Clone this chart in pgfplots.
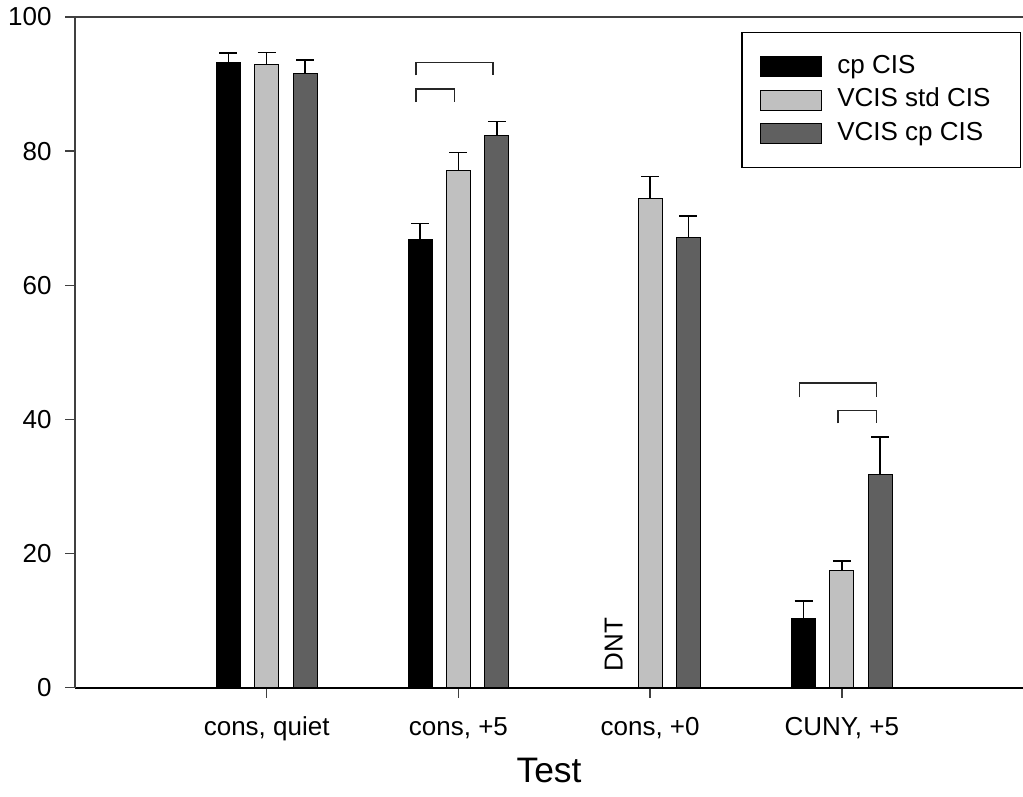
\documentclass[border=0pt]{standalone}
\usepackage{pgfplots}
\pgfplotsset{compat=1.18}
\usepackage{fontspec}
\setmainfont{Liberation Sans}
\definecolor{lgray}{HTML}{C0C0C0}
\definecolor{dgray}{HTML}{606060}
\begin{document}
\begin{tikzpicture}
\begin{axis}[
  at={(0,0)}, anchor=south west,
  scale only axis,
  width=474pt, height=335.35pt,
  xmin=0, xmax=4.945,
  ymin=0, ymax=100,
  clip=false,
  axis lines=left,
  axis line style={-},
  x axis line style={black, line width=1.1pt},
  y axis line style={black!75, line width=0.75pt},
  tick align=outside,
  major tick length=5pt,
  tick style={black!75, line width=0.75pt},
  xtick={1,2,3,4},
  xticklabels={{cons, quiet},{cons, +5},{cons, +0},{CUNY, +5}},
  ytick={0,20,40,60,80,100},
  /pgf/number format/assume math mode=true,
  every tick label/.append style={font=\fontsize{13}{15}\selectfont},
  yticklabel style={inner xsep=6.5pt},
  xticklabel style={text height=9.5pt, text depth=3pt, inner ysep=9pt},
  xlabel={Test},
  xlabel style={at={(axis description cs:0.5,0)}, anchor=base, yshift=-47.2pt, font=\fontsize{17.7}{20}\selectfont},
  legend cell align=left,
  legend style={at={(rel axis cs:0.703,0.9772)}, anchor=north west,
    draw=black, line width=0.6pt, inner xsep=9.15pt, inner ysep=10.75pt,
    row sep=4.2pt,
    font=\fontsize{13}{15}\selectfont,
    nodes={inner sep=0pt, text height=9.5pt, text depth=3pt},
    /tikz/every odd column/.append style={column sep=7.5pt}},
  legend image code/.code={\draw[#1, line width=0.5pt] (0pt,-5pt) rectangle (30.5pt,5pt);},
]
\addplot[ybar, bar width=12pt, bar shift=0pt, fill=black, draw=black, line width=0.5pt,
  error bars/.cd, y dir=plus, y explicit,
  error bar style={black, line width=0.75pt},
  error mark options={rotate=90, black, line width=0.75pt, mark size=4.5pt}]
  coordinates {(0.8,93.2) +- (0,1.4) (1.8,66.8) +- (0,2.4) (3.8,10.3) +- (0,2.65)};
\addlegendentry{\makebox[82.5pt][l]{cp CIS}}
\addplot[ybar, bar width=12pt, bar shift=0pt, fill=lgray, draw=black, line width=0.5pt,
  error bars/.cd, y dir=plus, y explicit,
  error bar style={black, line width=0.75pt},
  error mark options={rotate=90, black, line width=0.75pt, mark size=4.5pt}]
  coordinates {(1,92.85) +- (0,1.85) (2,77.1) +- (0,2.7) (3,72.9) +- (0,3.3) (4,17.4) +- (0,1.5)};
\addlegendentry{\makebox[82.5pt][l]{VCIS std CIS}}
\addplot[ybar, bar width=12pt, bar shift=0pt, fill=dgray, draw=black, line width=0.5pt,
  error bars/.cd, y dir=plus, y explicit,
  error bar style={black, line width=0.75pt},
  error mark options={rotate=90, black, line width=0.75pt, mark size=4.5pt}]
  coordinates {(1.2,91.6) +- (0,2.0) (2.2,82.4) +- (0,2.0) (3.2,67.05) +- (0,3.25) (4.2,31.8) +- (0,5.6)};
\addlegendentry{\makebox[82.5pt][l]{VCIS cp CIS}}
% significance brackets
\addplot[forget plot, black!85, line width=0.75pt, sharp plot] coordinates {(1.78,91.3) (1.78,93.2) (2.18,93.2) (2.18,91.3)};
\addplot[forget plot, black!85, line width=0.75pt, sharp plot] coordinates {(1.78,87.3) (1.78,89.3) (1.98,89.3) (1.98,87.3)};
\addplot[forget plot, black!85, line width=0.75pt, sharp plot] coordinates {(3.78,43.3) (3.78,45.4) (4.18,45.4) (4.18,43.3)};
\addplot[forget plot, black!85, line width=0.75pt, sharp plot] coordinates {(3.98,39.4) (3.98,41.3) (4.18,41.3) (4.18,39.4)};
\draw[black!75, line width=0.75pt] (rel axis cs:0,1) -- (rel axis cs:1,1);
\node[rotate=90, anchor=west, inner sep=0pt, font=\fontsize{13}{15}\selectfont] at (axis cs:2.81,2.4) {DNT};
\end{axis}
\pgfresetboundingbox
\path[use as bounding box] (-37.5pt,-54.65pt) rectangle (474pt,343.85pt);
\end{tikzpicture}
\end{document}
